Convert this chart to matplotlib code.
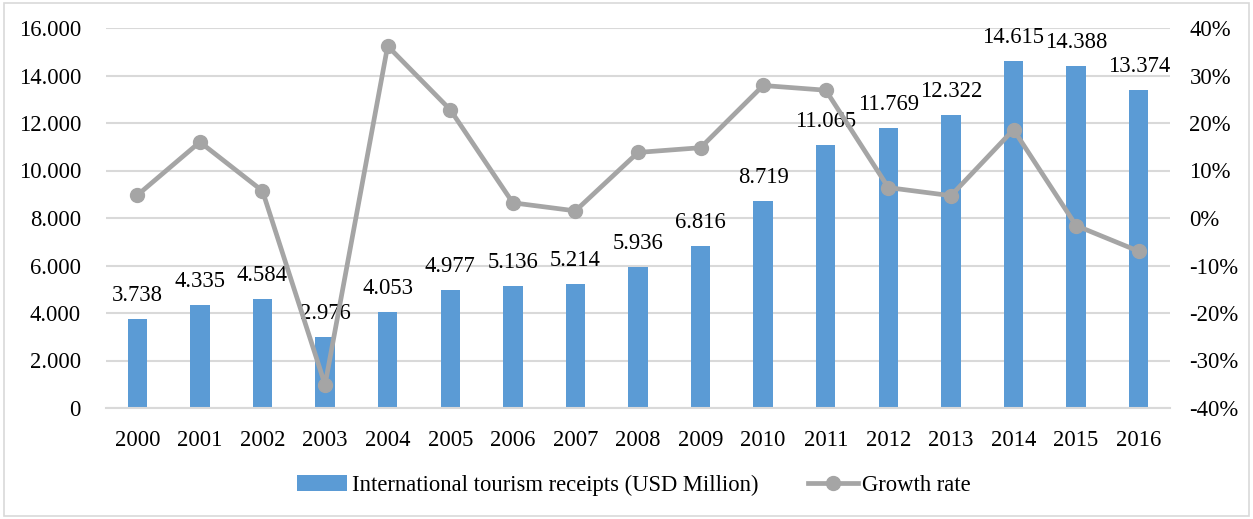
import numpy as np
import matplotlib
matplotlib.use("Agg")
import matplotlib.pyplot as plt
from matplotlib.ticker import FuncFormatter
from matplotlib.lines import Line2D
from matplotlib.patches import Patch, Rectangle

years = ["2000", "2001", "2002", "2003", "2004", "2005", "2006", "2007", "2008",
         "2009", "2010", "2011", "2012", "2013", "2014", "2015", "2016"]
receipts = [3738, 4335, 4584, 2976, 4053, 4977, 5136, 5214, 5936,
            6816, 8719, 11065, 11769, 12322, 14615, 14388, 13374]
growth = [4.8, 16.0, 5.7, -35.1, 36.2, 22.8, 3.2, 1.5, 13.8,
          14.8, 27.9, 26.9, 6.4, 4.7, 18.6, -1.6, -7.0]

bar_color = "#5B9BD5"
line_color = "#A5A5A5"
grid_color = "#D9D9D9"

plt.rcParams["font.family"] = ["Liberation Serif", "DejaVu Serif"]
fs = 16.3

fig = plt.figure(figsize=(12.53, 5.19), dpi=100)
fig.patches.append(Rectangle((0.003, 0.005), 0.994, 0.99, transform=fig.transFigure,
                             fill=False, edgecolor=grid_color, linewidth=1.2))
ax = fig.add_axes([106/1253, 111/519, 1064/1253, 380/519])
x = np.arange(len(years))
ax.bar(x, receipts, width=0.31, color=bar_color, zorder=2)
ax.set_xlim(-0.5, len(years) - 0.5)
ax.set_ylim(0, 16000)
ax.set_yticks(np.arange(0, 16001, 2000))
ax.yaxis.set_major_formatter(FuncFormatter(lambda v, p: "0" if v == 0 else f"{int(v):,}".replace(",", ".")))
ax.set_xticks(x)
ax.set_xticklabels(years)
ax.grid(axis="y", color=grid_color, linewidth=1.5, zorder=0)
ax.set_axisbelow(True)
for s in ["top", "left", "right"]:
    ax.spines[s].set_visible(False)
ax.spines["bottom"].set_color(grid_color)
ax.spines["bottom"].set_linewidth(1.5)
ax.tick_params(axis="both", length=0, labelsize=fs)
ax.tick_params(axis="x", pad=16)
ax.tick_params(axis="y", pad=18)

# data labels above the bars
for xi, v in zip(x, receipts):
    ax.annotate(f"{v:,}".replace(",", "."), (xi, v), xytext=(0, 13), textcoords="offset points",
                ha="center", va="baseline", fontsize=fs, zorder=5)

ax2 = ax.twinx()
ax2.plot(x, growth, color=line_color, linewidth=3.4, marker="o", markersize=10, zorder=3)
ax2.set_ylim(-40, 40)
ax2.set_yticks(np.arange(-40, 41, 10))
ax2.yaxis.set_major_formatter(FuncFormatter(lambda v, p: f"{int(round(v))}%"))
for s in ["top", "left", "right", "bottom"]:
    ax2.spines[s].set_visible(False)
ax2.tick_params(axis="y", length=0, labelsize=fs, pad=14)

handles = [Patch(facecolor=bar_color, edgecolor="none"),
           Line2D([0], [0], color=line_color, linewidth=3.4, marker="o", markersize=10)]
labels = ["International tourism receipts (USD Million)", "Growth rate"]
fig.legend(handles, labels, loc="center", bbox_to_anchor=(634/1253, 1 - 485/519), ncol=2,
           frameon=False, fontsize=fs, handlelength=2.2, handletextpad=0.2, columnspacing=2.2)

fig.savefig("out.png", dpi=100)
